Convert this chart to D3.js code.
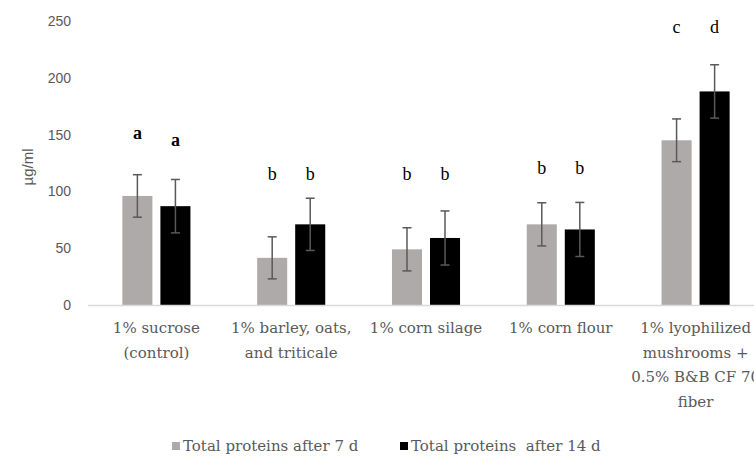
<!DOCTYPE html>
<html>
<head>
<meta charset="utf-8">
<script src="https://cdn.jsdelivr.net/npm/d3@7"></script>
<style>
  html, body { margin: 0; padding: 0; background: #fff; }
  svg { display: block; }
  text { white-space: pre; }
</style>
</head>
<body>
<div id="chart"></div>
<script>
// Treatments and their wrapped axis labels
const categories = [
  "1% sucrose (control)",
  "1% barley, oats, and triticale",
  "1% corn silage",
  "1% corn flour",
  "1% lyophilized mushrooms + 0.5% B&B CF 70 fiber"
];
const categoryLines = [
  ["1% sucrose", "(control)"],
  ["1% barley, oats,", "and triticale"],
  ["1% corn silage"],
  ["1% corn flour"],
  ["1% lyophilized", "mushrooms +", "0.5% B&B CF 70", "fiber"]
];

// Total proteins (µg/ml) with error bar half-widths
const seriesNames = ["Total proteins after 7 d", "Total proteins  after 14 d"];
const proteins7d = [96, 41.5, 49, 71, 145];
const proteins14d = [87, 71, 59, 66.5, 188];
const error7d = [18.7, 18.5, 19, 19, 18.8];
const error14d = [23.5, 23, 23.8, 23.8, 23.5];

// Significance letters and the level (µg/ml) at which each is written
const letters7d = ["a", "b", "b", "b", "c"];
const letters14d = ["a", "b", "b", "b", "d"];
const letterLevel7d = [151, 115, 115, 121, 245];
const letterLevel14d = [145, 115, 115, 121, 245];

const yTicks = [0, 50, 100, 150, 200, 250];
const yTitle = "µg/ml";

const W = 754, H = 459;
const colors = ["#aeaaaa", "#000000"];
const textGray = "#595959";
const serif = "'DejaVu Serif', serif";
const sans = "'Liberation Sans', Arial, sans-serif";

const svg = d3.select("#chart").append("svg")
  .attr("width", W).attr("height", H);

const x = d3.scaleBand().domain(categories).range([89, 763])
  .paddingInner(0.495).paddingOuter(0.2475);
const xSub = d3.scaleBand().domain([0, 1]).range([0, x.bandwidth()])
  .paddingInner(0.21);
const y = d3.scaleLinear().domain([0, 250]).range([305, 21]);

// Y axis (labels only)
const yAxis = svg.append("g").attr("transform", "translate(88,0)")
  .call(d3.axisLeft(y).tickValues(yTicks).tickSize(0).tickPadding(17));
yAxis.select(".domain").remove();
yAxis.selectAll("text")
  .attr("fill", textGray).attr("font-family", sans).attr("font-size", 14);

svg.append("text")
  .attr("transform", `translate(27,${(y(0) + y(250)) / 2 + 4}) rotate(-90)`)
  .attr("text-anchor", "middle").attr("dominant-baseline", "central")
  .attr("fill", textGray).attr("font-family", sans).attr("font-size", 15)
  .text(yTitle);

const series = [
  { values: proteins7d, errors: error7d, letters: letters7d, levels: letterLevel7d },
  { values: proteins14d, errors: error14d, letters: letters14d, levels: letterLevel14d }
];

const groups = svg.append("g").selectAll("g")
  .data(categories).join("g")
  .attr("transform", d => `translate(${x(d)},0)`);

series.forEach((s, si) => {
  const cx = xSub(si) + xSub.bandwidth() / 2;
  // Bars
  groups.append("rect")
    .attr("x", xSub(si)).attr("width", xSub.bandwidth())
    .attr("y", (d, i) => y(s.values[i]))
    .attr("height", (d, i) => y(0) - y(s.values[i]))
    .attr("fill", colors[si]);
  // Error bars
  const eb = groups.append("g").attr("stroke", "#595959").attr("stroke-width", 1.5);
  eb.append("line")
    .attr("x1", cx).attr("x2", cx)
    .attr("y1", (d, i) => y(s.values[i] + s.errors[i]))
    .attr("y2", (d, i) => y(s.values[i] - s.errors[i]));
  [1, -1].forEach(sign => {
    eb.append("line")
      .attr("x1", cx - 4.5).attr("x2", cx + 4.5)
      .attr("y1", (d, i) => y(s.values[i] + sign * s.errors[i]))
      .attr("y2", (d, i) => y(s.values[i] + sign * s.errors[i]));
  });
  // Significance letters
  groups.append("text")
    .attr("x", cx)
    .attr("y", (d, i) => y(s.levels[i]))
    .attr("text-anchor", "middle").attr("dominant-baseline", "central")
    .attr("font-family", "'Liberation Serif', serif").attr("font-size", 18)
    .attr("font-weight", (d, i) => s.letters[i] === "a" ? "bold" : "normal")
    .attr("fill", "#000")
    .text((d, i) => s.letters[i]);
});

// X axis baseline
svg.append("line")
  .attr("x1", 88).attr("x2", W).attr("y1", y(0) + 0.5).attr("y2", y(0) + 0.5)
  .attr("stroke", "#d9d9d9").attr("stroke-width", 1.5);

// Category labels
const labels = svg.append("g").selectAll("text")
  .data(categories).join("text")
  .attr("x", d => x(d) + x.bandwidth() / 2)
  .attr("y", 328)
  .attr("text-anchor", "middle")
  .attr("font-family", serif).attr("font-size", 15)
  .attr("fill", textGray);
labels.selectAll("tspan")
  .data((d, i) => categoryLines[i]).join("tspan")
  .attr("x", function () { return d3.select(this.parentNode).attr("x"); })
  .attr("dy", (d, j) => j === 0 ? 0 : 24.5)
  .attr("dominant-baseline", "central")
  .text(d => d);

// Legend
const legendX = [172, 400];
const legend = svg.append("g").selectAll("g")
  .data(seriesNames).join("g")
  .attr("transform", (d, i) => `translate(${legendX[i]},446)`);
legend.append("rect")
  .attr("x", 0).attr("y", -4).attr("width", 8).attr("height", 8)
  .attr("fill", (d, i) => colors[i]);
legend.append("text")
  .attr("x", 11).attr("y", 0).attr("dominant-baseline", "central")
  .attr("font-family", serif).attr("font-size", 15)
  .attr("fill", textGray)
  .text(d => d);
</script>
</body>
</html>
